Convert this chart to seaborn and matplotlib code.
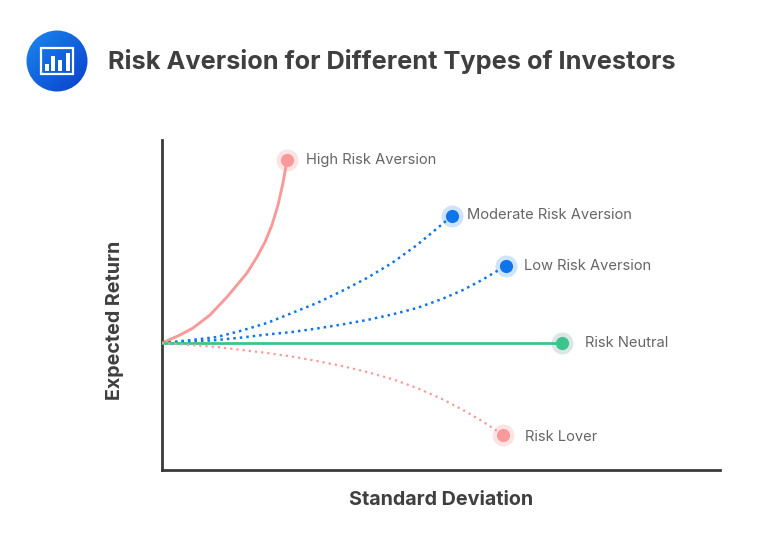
import numpy as np
import pandas as pd
import matplotlib.pyplot as plt
from matplotlib.patches import Circle, Rectangle
import seaborn as sns

# curves (arbitrary units, origin where the curves start)
high_x = [0, 18, 31, 48, 65, 85, 95, 103, 110, 116, 121, 125]
high_y = [0, 8, 15, 28, 46, 70, 86, 101, 118, 138, 160, 183]
moderate_x = [0, 30, 55, 80, 105, 130, 155, 180, 205, 230, 255, 278, 290]
moderate_y = [0, 3, 6, 12.5, 20, 30, 40, 52, 65, 80, 98, 117, 127]
low_x = [0, 30, 55, 80, 105, 130, 155, 180, 205, 230, 255, 280, 301, 320, 335, 344]
low_y = [0, 1.5, 3, 5.5, 8.5, 11, 14.5, 18.5, 23, 28.5, 35, 44, 53, 63, 72, 77]
neutral_x = [0, 400]
neutral_y = [0, 0]
lover_x = [0, 30, 55, 80, 105, 130, 155, 180, 205, 230, 255, 280, 301, 320, 341]
lover_y = [0, -2, -4, -7, -10, -13.5, -18, -23, -29, -36, -45, -56, -67, -78, -92]

names = ['High Risk Aversion', 'Moderate Risk Aversion', 'Low Risk Aversion', 'Risk Neutral', 'Risk Lover']
colors = ['#f99a9a', '#0f75e8', '#0f75e8', '#3cc48a', '#f99a9a']
halos = ['#fde3e3', '#cfe4f8', '#cfe4f8', '#dbe7e6', '#fde3e3']
styles = ['-', (0, (1, 1.6)), (0, (1, 1.6)), '-', (0, (1, 1.8))]
widths = [2.1, 1.8, 1.8, 2.0, 1.6]
label_gap = [19, 15, 18, 23, 22]
label_dy = [0, 1, 0, 0, -1.5]
all_x = [high_x, moderate_x, low_x, neutral_x, lover_x]
all_y = [high_y, moderate_y, low_y, neutral_y, lover_y]

sns.set_style('white')
plt.rcParams['font.family'] = ['Inter', 'DejaVu Sans']
text_dark = '#3f3f3f'

fig = plt.figure(figsize=(7.68, 5.38), dpi=100)
ax = fig.add_axes([162 / 768, 1 - 470 / 538, 558 / 768, 330 / 538])

for name, xs, ys, c, h, ls, lw, gap, dy in zip(names, all_x, all_y, colors, halos, styles, widths, label_gap, label_dy):
    df = pd.DataFrame({'x': xs, 'y': ys})
    sns.lineplot(data=df, x='x', y='y', color=c, linestyle=ls, linewidth=lw, ax=ax,
                 estimator=None, sort=False, zorder=3)
    end = df.iloc[[-1]]
    sns.scatterplot(data=end, x='x', y='y', color=h, s=250, linewidth=0, ax=ax, zorder=2, clip_on=False)
    sns.scatterplot(data=end, x='x', y='y', color=c, s=90, linewidth=0, ax=ax, zorder=4, clip_on=False)
    ax.annotate(name, (xs[-1], ys[-1]), xytext=(gap * 0.72, dy), textcoords='offset points',
                va='center', ha='left', fontsize=10.6, color='#666666')

ax.set_xlim(0, 558)
ax.set_ylim(-127, 203)
ax.set_xticks([])
ax.set_yticks([])
sns.despine(ax=ax)
for side in ['left', 'bottom']:
    ax.spines[side].set_linewidth(2)
    ax.spines[side].set_color('#3a3a3a')

ax.set_xlabel('Standard Deviation', fontsize=14.2, fontweight='bold', color=text_dark)
ax.set_ylabel('Expected Return', fontsize=14.2, fontweight='bold', color=text_dark)
ax.xaxis.set_label_coords(279 / 558, -21 / 330)
ax.yaxis.set_label_coords(-38 / 558, 1 - 180 / 330)

fig.text(108 / 768, 1 - 61 / 538, 'Risk Aversion for Different Types of Investors',
         fontsize=18.25, fontweight='bold', color=text_dark, va='center', ha='left')

# icon top left: blue gradient disc with a small bar chart
icon = fig.add_axes([26 / 768, 1 - 92 / 538, 62 / 768, 62 / 538])
grad = np.linspace(0, 1, 64)
gx, gy = np.meshgrid(grad, grad)
im = icon.imshow(gx + gy, extent=(0, 62, 62, 0), cmap=sns.blend_palette(['#1a88ee', '#0a3fcc'], as_cmap=True))
im.set_clip_path(Circle((31, 31), 30.5, transform=icon.transData))
icon.add_patch(Rectangle((14.5, 18), 32.5, 26, fill=False, ec='white', lw=1.6))
for bx, bh in zip([18.7, 25.3, 32, 39.7], [7, 15, 11, 18]):
    icon.add_patch(Rectangle((bx, 40.5 - bh), 4, bh, color='white', lw=0))
icon.axis('off')

fig.savefig('out.png', dpi=100)
